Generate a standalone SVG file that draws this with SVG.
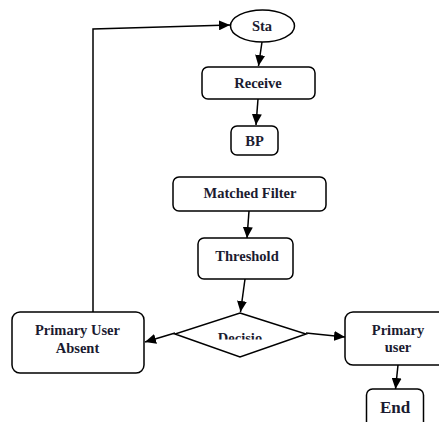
<svg xmlns="http://www.w3.org/2000/svg" width="439" height="422" viewBox="0 0 439 422">
  <defs>
    <marker id="arrow" markerUnits="userSpaceOnUse" markerWidth="11" markerHeight="10" refX="11" refY="5" orient="auto">
      <path d="M0,0 L11,5 L0,10 z" fill="#000"/>
    </marker>
    <clipPath id="decisionClip">
      <rect x="170" y="310" width="140" height="29.5"/>
    </clipPath>
  </defs>
  <style>
    .box { fill: #fff; stroke: #000; stroke-width: 1.5; }
    .lbl { font-family: 'Liberation Serif', serif; font-weight: bold; font-size: 14.5px; fill: #1b1b30; text-anchor: middle; }
    .big { font-size: 17px; }
    .edge { fill: none; stroke: #000; stroke-width: 1.5; }
    .arr { marker-end: url(#arrow); }
  </style>
  <rect width="439" height="422" fill="#fff"/>

  <g id="connectors">
    <!-- feedback loop from "Primary User Absent" back to start -->
    <polyline class="edge arr" points="93,312 93,29 230,25"/>
    <line class="edge arr" x1="262" y1="42" x2="258.5" y2="66"/>
    <line class="edge arr" x1="258" y1="99" x2="256" y2="125"/>
    <line class="edge arr" x1="249" y1="211" x2="247" y2="238"/>
    <line class="edge arr" x1="245" y1="279" x2="240.5" y2="312"/>
    <line class="edge arr" x1="175" y1="333" x2="145" y2="342"/>
    <line class="edge arr" x1="306" y1="333" x2="345" y2="337"/>
    <line class="edge arr" x1="398" y1="365" x2="395.5" y2="389"/>
  </g>

  <g id="start">
    <ellipse class="box" cx="262.5" cy="26" rx="32" ry="16"/>
    <text class="lbl" font-family="Liberation Serif" x="262" y="31">Sta</text>
  </g>

  <g id="receive">
    <rect class="box" x="202" y="67" width="113" height="32" rx="6"/>
    <text class="lbl" x="258" y="88">Receive</text>
  </g>

  <g id="bp">
    <rect class="box" x="231" y="126" width="47" height="29" rx="6"/>
    <text class="lbl" x="254.5" y="146">BP</text>
  </g>

  <g id="matched-filter">
    <rect class="box" x="173" y="177" width="153" height="34" rx="6"/>
    <text class="lbl" x="250" y="198">Matched Filter</text>
  </g>

  <g id="threshold">
    <rect class="box" x="198" y="238" width="95" height="41" rx="6"/>
    <text class="lbl" x="247" y="261">Threshold</text>
  </g>

  <g id="decision">
    <polygon class="box" points="240,313 306,334 240,357 175,334"/>
    <text class="lbl" x="240" y="343" clip-path="url(#decisionClip)">Decisio</text>
  </g>

  <g id="primary-user-absent">
    <rect class="box" x="12" y="312" width="132" height="61" rx="8"/>
    <text class="lbl" x="77.5" y="335">Primary User</text>
    <text class="lbl" x="77.5" y="353">Absent</text>
  </g>

  <g id="primary-user">
    <rect class="box" x="345" y="312" width="110" height="53" rx="8"/>
    <text class="lbl" x="398" y="335">Primary</text>
    <text class="lbl" x="398" y="352">user</text>
  </g>

  <g id="end">
    <rect class="box" x="366.5" y="389" width="57" height="45" rx="6"/>
    <text class="lbl big" x="395" y="413">End</text>
  </g>
</svg>
